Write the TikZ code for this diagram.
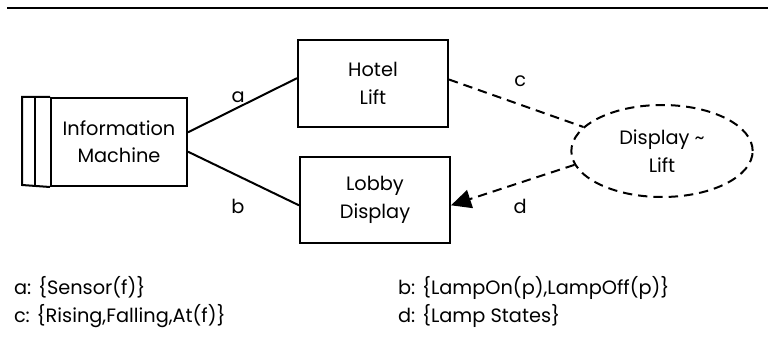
\documentclass[tikz,border=0pt]{standalone}
\usepackage{fontspec}
\setmainfont{Poppins}
\usetikzlibrary{arrows.meta, shapes.geometric}
\begin{document}
\begin{tikzpicture}[x=0.75pt, y=-0.75pt, line width=1.5pt,
    font=\fontsize{14.5}{20.5}\selectfont,
    box/.style={draw, rectangle, align=center, inner sep=0pt},
    dashline/.style={dashed, dash pattern=on 7pt off 4.5pt},
    sharedphen/.style={draw, ellipse, dashline, align=center,
      minimum width=136pt, minimum height=69pt, inner sep=0pt},
    lbl/.style={inner sep=0pt}]
  \useasboundingbox (0,0) rectangle (768,345);
  \draw[line width=2pt] (7,8) -- (768,8);

  % Nodes
  \node[box, minimum width=102pt, minimum height=66pt] (im) at (119,142) {Information\\Machine};
  \draw (im.north west) -- ++(-28,0) -- ++(0,88) -- (im.south west);
  \draw (im.north west) ++(-15,0) -- ++(0,88);
  \node[box, minimum width=112.5pt, minimum height=65pt] (hl) at (373,83.5) {Hotel\\Lift};
  \node[box, minimum width=112.5pt, minimum height=65pt] (ld) at (375,200) {Lobby\\Display};
  \node[sharedphen] (dl) at (662,151) {Display \textasciitilde\\Lift};

  % Connections
  \draw (im.8) -- node[lbl, above=3pt, pos=0.46] {a} (hl.176);
  \draw (im.-8) -- node[lbl, below=17pt, pos=0.45] {b} (ld.-176);
  \draw[dashline] (hl.3) -- node[lbl, above=13pt, pos=0.53] {c} (dl.163);
  \draw[dashline, -{Triangle[length=15pt, width=14pt]}]
    (dl.189) -- node[lbl, below=12pt, pos=0.44] {d} (ld.-4);

  % Legend
  \node[anchor=west, align=left, inner sep=0pt] (la) at (13,302)
    {a: \{Sensor(f)\}\\c: \{Rising,Falling,At(f)\}};
  \node[anchor=west, align=left, inner sep=0pt] (lb) at (397,302)
    {b: \{LampOn(p),LampOff(p)\}\\d: \{Lamp States\}};
\end{tikzpicture}
\end{document}
